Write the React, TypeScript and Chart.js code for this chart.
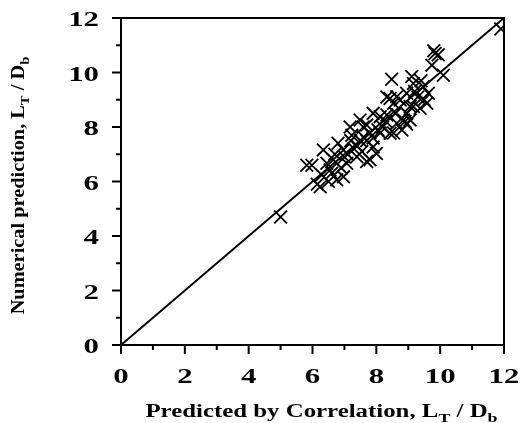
import React, { useEffect, useRef } from "react";
import { Chart, registerables } from "chart.js";

Chart.register(...registerables);

const predicted: number[] = [
  11.9, 5.0, 5.82, 5.98, 6.34, 6.29, 6.24, 6.45, 6.55, 6.8, 6.97, 7.23, 7.39, 7.59, 7.8, 7.9,
  6.76, 6.97, 6.65, 7.07, 8.48, 9.11, 9.84, 9.94, 9.74, 10.1, 9.16, 9.47, 9.63, 9.58, 9.37,
  8.95, 8.75, 8.54, 8.43, 8.33, 9.06, 8.9, 8.95, 8.12, 7.9, 7.7, 8.2, 8.64, 8.8, 8.54, 7.8,
  7.6, 7.7, 8.0, 8.43, 8.12, 8.33, 7.18, 7.49, 8.64, 8.95, 9.16, 8.85, 9.06, 6.15, 6.6, 6.9,
  7.0, 7.1, 7.3, 7.4, 7.55, 7.5, 7.7, 7.9, 8.05, 8.3, 8.6, 9.3, 9.5, 9.2, 9.4, 6.7, 7.2, 9.8, 6.5,
];
const numerical: number[] = [
  11.6, 4.7, 6.6, 6.6, 7.16, 6.24, 5.81, 6.67, 6.42, 7.4, 7.16, 7.7, 6.91, 8.0, 6.8, 7.27,
  6.06, 6.17, 6.8, 6.67, 9.75, 9.85, 10.7, 10.65, 10.27, 9.9, 9.6, 9.48, 9.24, 8.87, 8.69,
  9.24, 8.99, 8.87, 9.05, 9.1, 8.75, 8.2, 8.1, 8.38, 8.5, 8.07, 8.0, 8.14, 7.89, 7.78, 7.78,
  7.63, 6.73, 7.03, 7.77, 7.78, 8.44, 8.0, 8.26, 9.11, 8.5, 8.75, 8.26, 8.26, 5.9, 6.3, 6.5,
  6.9, 7.0, 7.2, 7.3, 7.1, 7.5, 7.5, 7.6, 7.9, 8.2, 8.5, 9.1, 9.0, 9.3, 9.7, 7.0, 7.5, 10.8, 6.0,
];
const parityLine: number[] = [0, 12];
const tickValues: number[] = [0, 2, 4, 6, 8, 10, 12];
const tickLabels: string[] = ["0", "2", "4", "6", "8", "10", "12"];
const xTitle = [
  { t: "Predicted by Correlation, L", sub: false },
  { t: "T", sub: true },
  { t: " / D", sub: false },
  { t: "b", sub: true },
];
const yTitle = [
  { t: "Numerical prediction, L", sub: false },
  { t: "T", sub: true },
  { t: " / D", sub: false },
  { t: "b", sub: true },
];

const FONT = '"Liberation Serif", "DejaVu Serif", serif';

function drawRich(
  ctx: CanvasRenderingContext2D,
  parts: { t: string; sub: boolean }[],
  cx: number,
  baseY: number,
  sx: number
) {
  const main = `bold 18px ${FONT}`;
  const small = `bold 13px ${FONT}`;
  let total = 0;
  for (const p of parts) {
    ctx.font = p.sub ? small : main;
    total += ctx.measureText(p.t).width;
  }
  ctx.save();
  ctx.translate(cx, baseY);
  ctx.scale(sx, 1);
  let x = -total / 2;
  ctx.textAlign = "left";
  ctx.textBaseline = "alphabetic";
  for (const p of parts) {
    ctx.font = p.sub ? small : main;
    ctx.fillText(p.t, x, p.sub ? 5 : 0);
    x += ctx.measureText(p.t).width;
  }
  ctx.restore();
}

const framePlugin = {
  id: "frameAndTitles",
  afterDraw(chart: any) {
    const { ctx, chartArea } = chart;
    const xs = chart.scales.x;
    const ys = chart.scales.y;
    ctx.save();
    ctx.strokeStyle = "#000";
    ctx.fillStyle = "#000";
    ctx.lineWidth = 2;
    ctx.strokeRect(chartArea.left, chartArea.top, chartArea.right - chartArea.left, chartArea.bottom - chartArea.top);
    for (let v = 0; v <= 12; v++) {
      const len = v % 2 === 0 ? 9 : 5;
      const px = xs.getPixelForValue(v);
      ctx.beginPath();
      ctx.moveTo(px, chartArea.bottom);
      ctx.lineTo(px, chartArea.bottom + len);
      ctx.stroke();
      const py = ys.getPixelForValue(v);
      ctx.beginPath();
      ctx.moveTo(chartArea.left, py);
      ctx.lineTo(chartArea.left - len, py);
      ctx.stroke();
    }
    ctx.font = `bold 22px ${FONT}`;
    ctx.textBaseline = "alphabetic";
    tickValues.forEach((v, i) => {
      const px = xs.getPixelForValue(v);
      ctx.save();
      ctx.translate(px, 383);
      ctx.scale(1.4, 1);
      ctx.textAlign = "center";
      ctx.fillText(tickLabels[i], 0, 0);
      ctx.restore();
      const py = ys.getPixelForValue(v);
      ctx.save();
      ctx.translate(99, py + 8);
      ctx.scale(1.4, 1);
      ctx.textAlign = "right";
      ctx.fillText(tickLabels[i], 0, 0);
      ctx.restore();
    });
    drawRich(ctx, xTitle, (chartArea.left + chartArea.right) / 2 + 9, 417, 1.38);
    ctx.save();
    ctx.translate(24, (chartArea.top + chartArea.bottom) / 2 + 4);
    ctx.rotate(-Math.PI / 2);
    drawRich(ctx, yTitle, 0, 0, 1.13);
    ctx.restore();
    ctx.restore();
  },
};

export default function App() {
  const ref = useRef<HTMLCanvasElement | null>(null);
  useEffect(() => {
    if (!ref.current) return;
    const chart = new Chart(ref.current, {
      type: "scatter",
      data: {
        datasets: [
          {
            type: "line",
            data: parityLine.map((v) => ({ x: v, y: v })),
            borderColor: "#000",
            borderWidth: 2,
            pointRadius: 0,
            fill: false,
          } as any,
          {
            data: predicted.map((x, i) => ({ x, y: numerical[i] })),
            pointStyle: "crossRot",
            pointRadius: 9,
            borderColor: "#000",
            backgroundColor: "#000",
            borderWidth: 1.8,
          },
        ],
      },
      options: {
        animation: false,
        responsive: false,
        layout: { padding: { top: 18, right: 16, left: 0, bottom: 0 } },
        plugins: { legend: { display: false }, tooltip: { enabled: false } },
        scales: {
          x: {
            type: "linear",
            min: 0,
            max: 12,
            border: { display: false },
            grid: { display: false },
            ticks: { display: false, stepSize: 2 },
            afterFit: (s: any) => {
              s.height = 78;
            },
          },
          y: {
            type: "linear",
            min: 0,
            max: 12,
            border: { display: false },
            grid: { display: false },
            ticks: { display: false, stepSize: 2 },
            afterFit: (s: any) => {
              s.width = 121;
            },
          },
        },
      },
      plugins: [framePlugin],
    });
    return () => chart.destroy();
  }, []);
  return (
    <div style={{ position: "fixed", left: 0, top: 0, width: 520, height: 423, background: "#fff" }}>
      <canvas ref={ref} width={520} height={423} style={{ display: "block" }} />
    </div>
  );
}
